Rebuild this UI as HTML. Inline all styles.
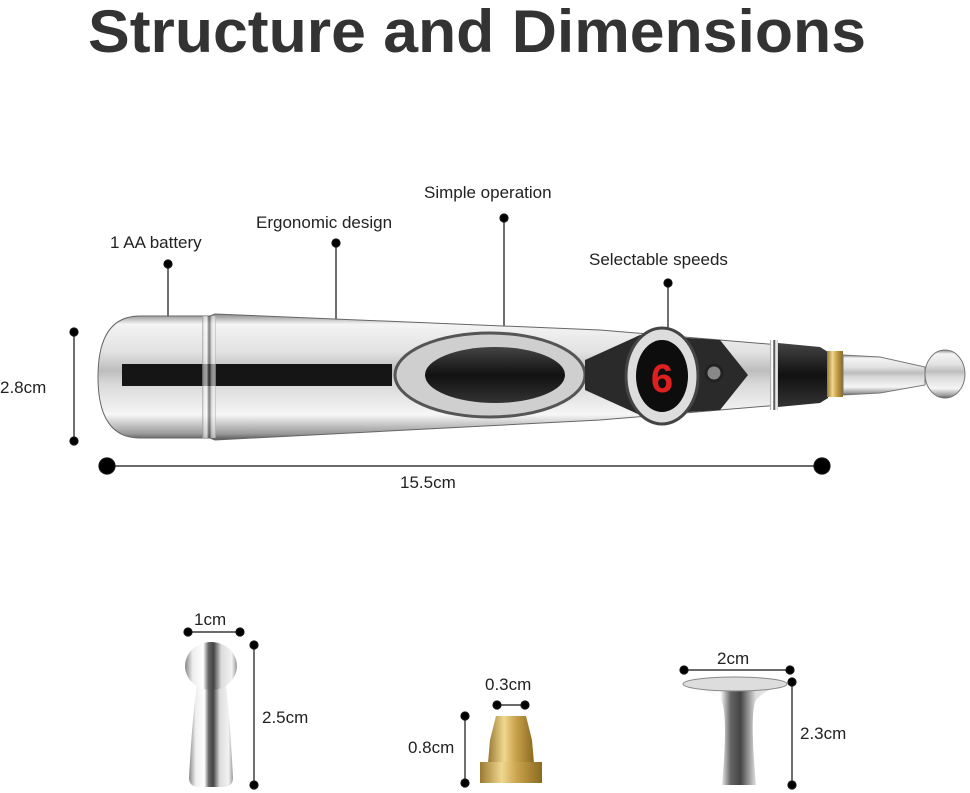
<!DOCTYPE html>
<html><head><meta charset="utf-8"><style>html,body{margin:0;padding:0;background:#fff}svg{display:block}</style></head>
<body>
<svg width="970" height="793" viewBox="0 0 970 793" xmlns="http://www.w3.org/2000/svg" font-family="Liberation Sans, DejaVu Sans, sans-serif">
<defs>
<linearGradient id="chrome" x1="0" y1="0" x2="0" y2="1">
<stop offset="0" stop-color="#8a8a8a"/><stop offset="0.08" stop-color="#f4f4f4"/><stop offset="0.3" stop-color="#e2e2e2"/><stop offset="0.45" stop-color="#bdbdbd"/><stop offset="0.55" stop-color="#d8d8d8"/><stop offset="0.8" stop-color="#f6f6f6"/><stop offset="0.95" stop-color="#9a9a9a"/><stop offset="1" stop-color="#555"/>
</linearGradient>
<linearGradient id="vchrome" x1="0" y1="0" x2="1" y2="0">
<stop offset="0" stop-color="#888"/><stop offset="0.15" stop-color="#eee"/><stop offset="0.35" stop-color="#fff"/><stop offset="0.45" stop-color="#666"/><stop offset="0.55" stop-color="#444"/><stop offset="0.7" stop-color="#ddd"/><stop offset="0.9" stop-color="#f2f2f2"/><stop offset="1" stop-color="#999"/>
</linearGradient>
<linearGradient id="gold" x1="0" y1="0" x2="1" y2="0">
<stop offset="0" stop-color="#9a7a30"/><stop offset="0.35" stop-color="#f0d890"/><stop offset="0.6" stop-color="#c9a24c"/><stop offset="1" stop-color="#8a6a20"/>
</linearGradient>
<linearGradient id="dark" x1="0" y1="0" x2="0" y2="1">
<stop offset="0" stop-color="#444"/><stop offset="0.5" stop-color="#111"/><stop offset="1" stop-color="#333"/>
</linearGradient>
</defs>
<text x="477" y="52" text-anchor="middle" font-size="60" font-weight="bold" fill="#333" textLength="778" lengthAdjust="spacingAndGlyphs">Structure and Dimensions</text>

<g font-size="17" fill="#222">
<text x="110" y="248">1 AA battery</text>
<text x="256" y="228">Ergonomic design</text>
<text x="424" y="198">Simple operation</text>
<text x="589" y="265">Selectable speeds</text>
<text x="0" y="393">2.8cm</text>
<text x="400" y="488">15.5cm</text>
</g>
<g stroke="#111" stroke-width="1.2" fill="#000">
<line x1="168" y1="264" x2="168" y2="335"/><circle cx="168" cy="264" r="4"/>
<line x1="336" y1="243" x2="336" y2="345"/><circle cx="336" cy="243" r="4"/>
<line x1="504" y1="218" x2="504" y2="360"/><circle cx="504" cy="218" r="4"/>
<line x1="668" y1="283" x2="668" y2="345"/><circle cx="668" cy="283" r="4"/>
<line x1="74" y1="332" x2="74" y2="441"/><circle cx="74" cy="332" r="4"/><circle cx="74" cy="441" r="4"/>
<line x1="107" y1="466" x2="822" y2="466"/><circle cx="107" cy="466" r="8"/><circle cx="822" cy="466" r="8"/>
</g>

<path d="M140 316 L210 316 L215 314 L600 330 L780 345 L780 405 L600 420 L215 440 L210 438 L140 438 Q98 438 98 377 Q98 316 140 316 Z" fill="url(#chrome)" stroke="#666" stroke-width="1"/>
<rect x="122" y="364" width="270" height="22" fill="#151515"/>
<rect x="202" y="316" width="14" height="122" fill="url(#vchrome)" opacity="0.6"/>
<ellipse cx="490" cy="375" rx="95" ry="42" fill="#cfcfcf" stroke="#555" stroke-width="3"/>
<ellipse cx="495" cy="375" rx="70" ry="28" fill="url(#dark)"/>
<path d="M585 360 L640 335 L720 340 L748 375 L720 410 L640 415 L585 390 Z" fill="#2a2a2a"/>
<ellipse cx="662" cy="376" rx="36" ry="48" fill="#ddd" stroke="#444" stroke-width="3"/>
<ellipse cx="662" cy="376" rx="26" ry="36" fill="#0d0d0d"/>
<text x="662" y="392" text-anchor="middle" font-size="40" font-weight="bold" fill="#e02020">6</text>
<circle cx="714" cy="373" r="8" fill="#888" stroke="#222" stroke-width="3"/>
<rect x="770" y="340" width="8" height="70" fill="url(#vchrome)"/>
<path d="M778 343 L820 347 L828 352 L828 398 L820 403 L778 407 Z" fill="url(#dark)"/>
<rect x="827" y="351" width="16" height="46" fill="url(#gold)"/>
<path d="M843 355 L880 357 L925 367 L925 385 L880 393 L843 395 Z" fill="url(#chrome)" stroke="#777"/>
<ellipse cx="945" cy="374" rx="20" ry="24" fill="url(#chrome)" stroke="#777"/>

<g font-size="17" fill="#222">
<text x="194" y="625">1cm</text>
<text x="262" y="723">2.5cm</text>
<text x="485" y="690">0.3cm</text>
<text x="408" y="753">0.8cm</text>
<text x="717" y="664">2cm</text>
<text x="800" y="739">2.3cm</text>
</g>
<g stroke="#111" stroke-width="1.2" fill="#000">
<line x1="188" y1="632" x2="240" y2="632"/><circle cx="188" cy="632" r="4"/><circle cx="240" cy="632" r="4"/>
<line x1="254" y1="645" x2="254" y2="785"/><circle cx="254" cy="645" r="4"/><circle cx="254" cy="785" r="4"/>
<line x1="497" y1="705" x2="525" y2="705"/><circle cx="497" cy="705" r="4"/><circle cx="525" cy="705" r="4"/>
<line x1="465" y1="716" x2="465" y2="783"/><circle cx="465" cy="716" r="4"/><circle cx="465" cy="783" r="4"/>
<line x1="684" y1="670" x2="790" y2="670"/><circle cx="684" cy="670" r="4"/><circle cx="790" cy="670" r="4"/>
<line x1="792" y1="682" x2="792" y2="785"/><circle cx="792" cy="682" r="4"/><circle cx="792" cy="785" r="4"/>
</g>
<path d="M197 684 L226 684 Q230 720 233 778 Q233 787 222 787 L200 787 Q189 787 189 778 Q192 720 197 684 Z" fill="url(#vchrome)"/>
<ellipse cx="211" cy="666" rx="26" ry="24" fill="url(#vchrome)"/>
<path d="M496 716 L526 716 L532 740 L534 763 L488 763 L490 740 Z" fill="url(#gold)"/>
<rect x="480" y="762" width="62" height="21" fill="url(#gold)"/>
<path d="M685 684 Q735 676 786 684 Q760 692 755 702 Q750 720 756 785 L722 785 Q728 720 722 702 Q715 692 685 684 Z" fill="url(#vchrome)"/>
<ellipse cx="735" cy="684" rx="52" ry="7" fill="#ddd" stroke="#888"/>
</svg>
</body></html>
